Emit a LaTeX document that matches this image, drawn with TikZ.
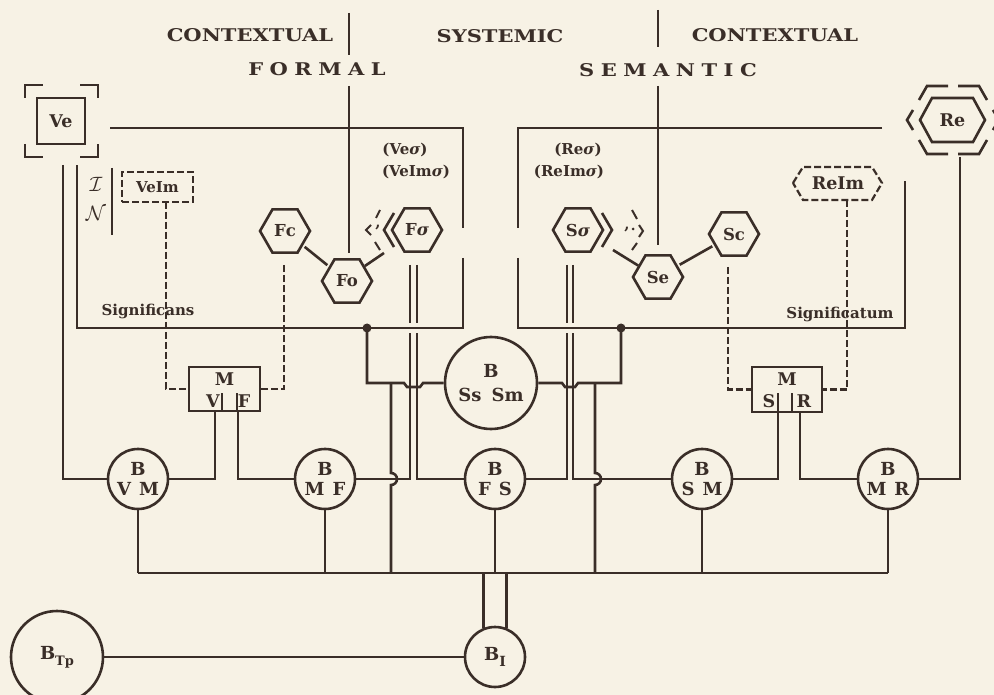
\documentclass[tikz,border=0pt]{standalone}
\usepackage{fontspec}
\setmainfont{DejaVu Serif}
\newfontfamily\ttlfont[FakeStretch=1.2]{DejaVu Serif}
\usetikzlibrary{shapes.geometric}
\definecolor{ink}{RGB}{58,46,40}
\definecolor{paper}{RGB}{247,242,229}
\newcommand\spc{\kern6.5pt}
\newcommand\sig{{\itshape σ}}
\newcommand\gap{\hspace{8pt}}
\begin{document}
\begin{tikzpicture}[x=1pt,y=-1pt,color=ink,line width=2.6pt,
  lab/.style={inner sep=0pt, font=\fontsize{17.5}{20}\selectfont\bfseries},
  sml/.style={inner sep=0pt, font=\fontsize{15}{18}\selectfont\bfseries},
  ttl/.style={inner sep=0pt, font=\fontsize{17.5}{20}\selectfont\ttlfont\bfseries},
  hexa/.style={regular polygon, regular polygon sides=6, minimum size=50pt, inner sep=0pt, draw, font=\fontsize{16.5}{19}\selectfont\bfseries},
  circ/.style={circle, draw, inner sep=0pt, minimum size=60pt, align=center, font=\fontsize{18}{19.5}\selectfont\bfseries},
  dsh/.style={dash pattern=on 7pt off 3pt, line width=2.2pt},
  jn/.style={circle, fill, inner sep=0pt, minimum size=9pt}
]
\fill[paper] (0,0) rectangle (994,695);
\clip (0,0) rectangle (994,695);

% ---------- titles ----------
\node[ttl, anchor=base] (t1) at (250,42) {CONTEXTUAL};
\node[ttl, anchor=base] (t2) at (500,43) {SYSTEMIC};
\node[ttl, anchor=base] (t3) at (775,42) {CONTEXTUAL};
\node[ttl, anchor=base] (t4) at (317,76) {F\spc O\spc R\spc M\spc A\spc L};
\node[ttl, anchor=base] (t5) at (668,77) {S\spc E\spc M\spc A\spc N\spc T\spc I\spc C};
\draw (349,13) -- (349,55);
\draw (658,10) -- (658,47);
\draw (349,86) -- (349,253);
\draw (658,86) -- (658,245);

% ---------- frames ----------
\draw (110,128) -- (463,128) -- (463,228);
\draw (463,258) -- (463,328) -- (77,328) -- (77,165);
\draw (882,128) -- (518,128) -- (518,228);
\draw (518,258) -- (518,328) -- (905,328) -- (905,181);
\node[sml] (sgs) at (148,311) {Significans};
\node[sml] (sgt) at (840,314) {Significatum};
\node[sml] (veo) at (405,150) {(Ve\sig)};
\node[sml] (veio) at (416,172) {(VeIm\sig)};
\node[sml] (reo) at (578,150) {(Re\sig)};
\node[sml] (reio) at (569,172) {(ReIm\sig)};

% ---------- Ve ----------
\node[lab, draw, minimum width=48pt, minimum height=46pt] (Ve) at (61,121) {Ve};
\draw (25,98) -- (25,85) -- (43,85);
\draw (80,85) -- (98,85) -- (98,98);
\draw (25,144) -- (25,157) -- (43,157);
\draw (80,157) -- (98,157) -- (98,144);
\draw (112,168) -- (112,235);
\node[inner sep=0pt, font=\fontsize{21}{24}\selectfont] (scI) at (96,184) {$\mathcal{I}$};
\node[inner sep=0pt, font=\fontsize{21}{24}\selectfont] (scN) at (96,213) {$\mathcal{N}$};
\node[sml, draw, dsh, minimum width=71pt, minimum height=30pt] (VeIm) at (157.5,187) {VeIm};

% ---------- Re ----------
\draw (920,120) -- (932,98) -- (973,98) -- (985,120) -- (973,142) -- (932,142) -- cycle;
\node[lab] (Re) at (952.5,120) {Re};
\draw (919,100) -- (927,86) -- (948,86);
\draw (958,86) -- (979,86) -- (987,100);
\draw (913,110) -- (907,120) -- (913,130);
\draw (993,110) -- (999,120) -- (993,130);
\draw (919,140) -- (927,154) -- (948,154);
\draw (958,154) -- (979,154) -- (987,140);
\draw[dsh] (793,183) -- (803,167) -- (872,167) -- (882,183) -- (872,200) -- (803,200) -- cycle;
\node[lab] (ReIm) at (838,183) {ReIm};

% ---------- hexagons ----------
\node[hexa] (Fc) at (285,231) {Fc};
\node[hexa] (Fo) at (347,281) {Fo};
\node[hexa] (Fs) at (417,230) {F\sig};
\node[hexa] (Ss) at (578,230) {S\sig};
\node[hexa] (Se) at (658,277) {Se};
\node[hexa] (Sc) at (734,234) {Sc};
\coordinate (fchev) at (384,253);
\coordinate (schev) at (613,250);
\draw[shorten <=2pt, shorten >=2pt] (Fc) -- (Fo);
\draw (Fo.40) -- (fchev);
\draw (Se.150) -- (schev);
\draw[shorten <=2pt, shorten >=2pt] (Se) -- (Sc);
% chevrons
\draw (394,213) -- (384,230) -- (394,247);
\draw[line width=2pt] (380,210) -- (376,218);
\draw[line width=2pt] (371,225) -- (366,230) -- (371,235);
\draw[line width=2pt] (375,242) -- (380,250);
\node[sml] (fcm) at (378,228) {,};
\draw (602,213) -- (612,230) -- (602,247);
\draw[line width=2pt] (632,210) -- (637,219);
\draw[line width=2pt] (639,225) -- (643,231) -- (639,237);
\draw[line width=2pt] (637,243) -- (632,250);
\node[sml] (scm) at (627,230) {,};
\node[jn, minimum size=3pt] (scd) at (633,229) {};

% ---------- M boxes ----------
\node[draw, minimum width=71pt, minimum height=44pt, inner sep=0pt] (ML) at (224.5,389) {};
\node[lab] (MLm) at (224.5,379) {M};
\node[lab] (MLv) at (213,401) {V};
\node[lab] (MLf) at (244,401) {F};
\draw (222,393) -- (222,411);
\draw (237,393) -- (237,411);
\node[draw, minimum width=70pt, minimum height=45pt, inner sep=0pt] (MR) at (787,389.5) {};
\node[lab] (MRm) at (787,379) {M};
\node[lab] (MRs) at (769,401) {S};
\node[lab] (MRr) at (804,401) {R};
\draw (778,393) -- (778,412);
\draw (792,393) -- (792,412);

% dashed links to M boxes
\draw[dsh] (166,202) |- (ML.west);
\draw[dsh] (284,265) |- (ML.east);
\draw[dsh] (728,267) |- (MR.west);
\draw[dsh] (847,200) |- (MR.east);

% ---------- circles ----------
\node[circ] (BVM) at (138,479) {B\\V\gap M};
\node[circ] (BMF) at (325,479) {B\\M\gap F};
\node[circ] (BFS) at (495,479) {B\\F\gap S};
\node[circ] (BSM) at (702,479) {B\\S\gap M};
\node[circ] (BMR) at (888,479) {B\\M\gap R};
\node[circ, minimum size=92pt] (BSS) at (491,383) {B\\[4pt]Ss\hspace{10pt}Sm};
\node[circ, minimum size=92pt] (BTp) at (57,657) {B\raisebox{-6pt}{\fontsize{13}{14}\selectfont Tp}};
\node[circ] (BI) at (495,657) {B\raisebox{-6pt}{\fontsize{14}{15}\selectfont I}};

\node[jn] (d1) at (367,328) {};
\node[jn] (d2) at (621,328) {};

% Ve lines
\draw (63,165) |- (BVM.west);
% M box stems
\draw ([xshift=-9.5pt]ML.south) |- (BVM.east);
\draw ([xshift=13.5pt]ML.south) |- (BMF.west);
\draw ([xshift=-9pt]MR.south) |- (BSM.east);
\draw ([xshift=13pt]MR.south) |- (BMR.west);
% Re stem
\draw (960,157) |- (BMR.east);

% double lines from F sigma and S sigma
\draw (410,265) -- (410,323);
\draw (410,333) |- (BMF.east);
\draw (417,265) -- (417,323);
\draw (417,333) |- (BFS.west);
\draw (567,265) -- (567,323);
\draw (567,333) |- (BFS.east);
\draw (573,265) -- (573,323);
\draw (573,333) |- (BSM.west);

% links from frame dots to B Ss Sm
\draw (d1.center) -- (367,383) -- (404,383) -- (407,387) -- (420,387) -- (423,383) -- (BSS.west);
\draw (d2.center) -- (621,383) -- (578,383) -- (575,387) -- (565,387) -- (562,383) -- (BSS.east);

% bus
\coordinate (bus) at (0,573);
\draw (BVM.south |- bus) -- (BMR.south |- bus);
\draw (BVM.south) -- (BVM.south |- bus);
\draw (BMF.south) -- (BMF.south |- bus);
\draw (BFS.south) -- (BFS.south |- bus);
\draw (BSM.south) -- (BSM.south |- bus);
\draw (BMR.south) -- (BMR.south |- bus);
\draw (391,383) -- (391,473) arc[start angle=-90, end angle=90, radius=6] -- (391,573);
\draw (595,383) -- (595,473) arc[start angle=-90, end angle=90, radius=6] -- (595,573);
\draw (BI.112) -- (BI.112 |- bus);
\draw (BI.68) -- (BI.68 |- bus);
\draw (BTp) -- (BI);
\end{tikzpicture}
\end{document}
